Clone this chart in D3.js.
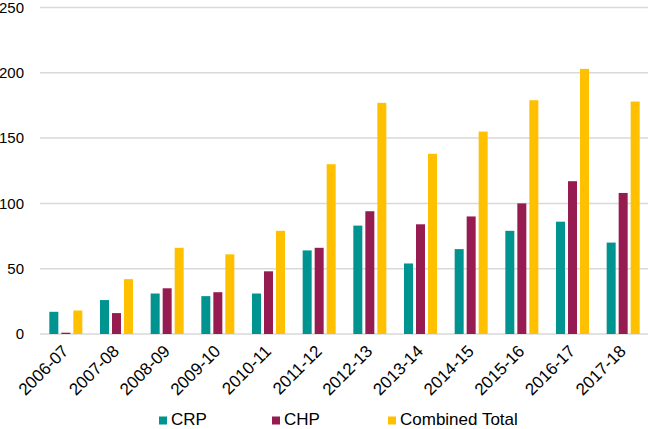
<!DOCTYPE html>
<html>
<head>
<meta charset="utf-8">
<script src="https://cdn.jsdelivr.net/npm/d3@7"></script>
<style>
  body { margin: 0; background: #fff; }
  text { font-family: "Liberation Sans", Arial, sans-serif; fill: #000; }
</style>
</head>
<body>
<div id="chart"></div>
<script>
// data
var years = ["2006-07", "2007-08", "2008-09", "2009-10", "2010-11", "2011-12",
             "2012-13", "2013-14", "2014-15", "2015-16", "2016-17", "2017-18"];
var crp = [17, 26, 31, 29, 31, 64, 83, 54, 65, 79, 86, 70];
var chp = [1, 16, 35, 32, 48, 66, 94, 84, 90, 100, 117, 108];
var combined = [18, 42, 66, 61, 79, 130, 177, 138, 155, 179, 203, 178];
var seriesNames = ["CRP", "CHP", "Combined Total"];
var yTicks = [0, 50, 100, 150, 200, 250];

var colors = ["#009490", "#951B51", "#FFC000"];
var W = 649, H = 429;
var plotL = 40, plotR = 648, plotT = 7.5, plotB = 334;

var series = [crp, chp, combined];
var rows = years.map(function(yr, i) {
    return { year: yr, vals: series.map(function(s) { return s[i]; }) };
});

var svg = d3.select("#chart").append("svg")
    .attr("width", W).attr("height", H);

var x = d3.scaleBand().domain(years).range([plotL, plotR]);
var x1 = d3.scaleBand().domain([0, 1, 2]).range([0, 33]).paddingInner(0.25);
var y = d3.scaleLinear().domain([0, 250]).range([plotB, plotT]);

// gridlines
svg.append("g").selectAll("line")
    .data(yTicks).enter().append("line")
    .attr("x1", plotL).attr("x2", plotR)
    .attr("y1", function(d) { return y(d); })
    .attr("y2", function(d) { return y(d); })
    .attr("stroke", "#d9d9d9").attr("stroke-width", 1.5);

// y labels
svg.append("g").selectAll("text")
    .data(yTicks).enter().append("text")
    .attr("x", 24).attr("y", function(d) { return y(d); })
    .attr("dy", "0.35em").attr("text-anchor", "end")
    .style("font-size", "15px")
    .text(function(d) { return d; });

// bars
var groups = svg.append("g").selectAll("g")
    .data(rows).enter().append("g")
    .attr("transform", function(d) {
        return "translate(" + (x(d.year) + x.bandwidth() / 2 - 16) + ",0)";
    });

groups.selectAll("rect")
    .data(function(d) { return d.vals; })
    .enter().append("rect")
    .attr("x", function(d, i) { return x1(i); })
    .attr("width", x1.bandwidth())
    .attr("y", function(d) { return y(d); })
    .attr("height", function(d) { return plotB - y(d); })
    .attr("fill", function(d, i) { return colors[i]; });

// x labels, rotated
svg.append("g").selectAll("text")
    .data(years).enter().append("text")
    .attr("transform", function(d) {
        return "translate(" + (x(d) + x.bandwidth() / 2) + "," + (plotB + 14) + ") rotate(-45)";
    })
    .attr("text-anchor", "end")
    .attr("dy", "0.35em")
    .style("font-size", "17px")
    .text(function(d) { return d; });

// legend
var legendX = [159, 272, 388];
var legend = svg.append("g").selectAll("g")
    .data(seriesNames).enter().append("g")
    .attr("transform", function(d, i) { return "translate(" + legendX[i] + ",425)"; });

legend.append("rect")
    .attr("x", 0).attr("y", -8.5)
    .attr("width", 8).attr("height", 8)
    .attr("fill", function(d, i) { return colors[i]; });

legend.append("text")
    .attr("x", 12).attr("y", 0)
    .style("font-size", "17px")
    .text(function(d) { return d; });
</script>
</body>
</html>
